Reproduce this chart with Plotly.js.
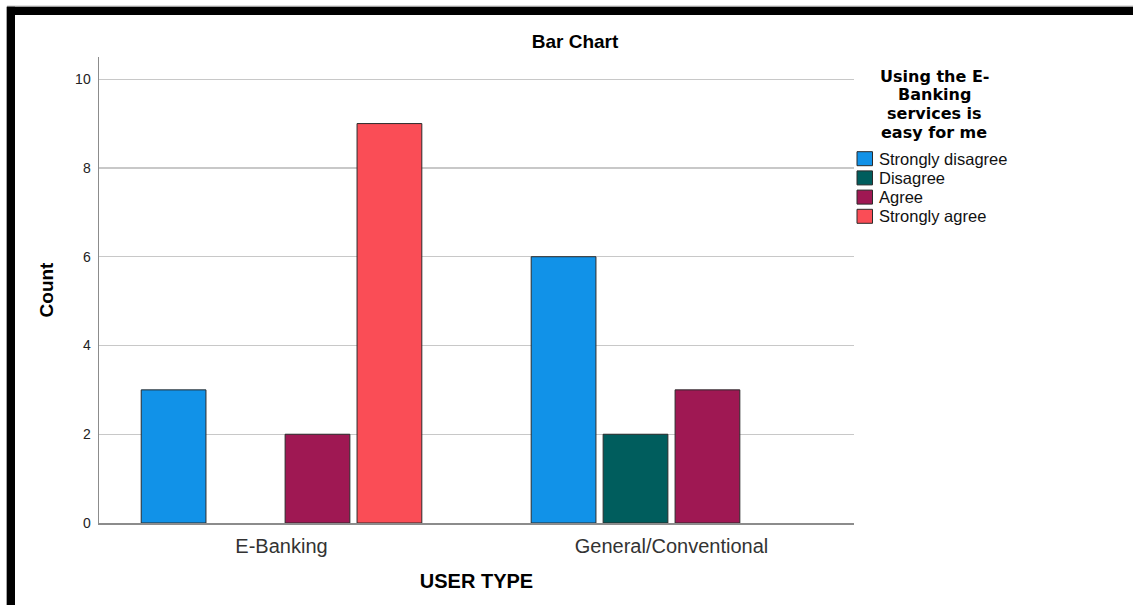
<!DOCTYPE html>
<html>
<head>
<meta charset="utf-8">
<script src="https://cdn.plot.ly/plotly-3.0.1.min.js"></script>
<style>html,body{margin:0;padding:0;background:#fff;}#chart{width:1133px;height:605px;}</style>
</head>
<body>
<div id="chart"></div>
<script>
// ---- data ----
const userTypes = ["E-Banking", "General/Conventional"];
const responses = ["Strongly disagree", "Disagree", "Agree", "Strongly agree"];
const countsStronglyDisagree = [3, 6];
const countsDisagree = [0, 2];
const countsAgree = [2, 3];
const countsStronglyAgree = [9, 0];
const yTickValues = [0, 2, 4, 6, 8, 10];
const chartTitle = "Bar Chart";
const legendTitleLines = ["Using the E-", "Banking", "services is", "easy for me"];

const seriesValues = [countsStronglyDisagree, countsDisagree, countsAgree, countsStronglyAgree];
const colors = ["#1192e8", "#005d5d", "#9f1853", "#fa4d56"];

// ---- geometry helpers (pixel -> paper) ----
const W = 1133, H = 605;
const M = {l: 99, r: W - 854, t: 57, b: H - 523};
const PW = W - M.l - M.r, PH = H - M.t - M.b;
const px2x = px => (px - M.l) / PW;
const px2y = py => (H - M.b - py) / PH;

const FONT = "Liberation Sans, Arial, sans-serif";
const WIDEBOLD = "DejaVu Sans, Liberation Sans, Arial, sans-serif";

const traces = responses.map((name, i) => ({
  type: "bar",
  name: name,
  x: userTypes,
  y: seriesValues[i].map(v => v === 0 ? null : v),
  marker: {color: colors[i], line: {color: "#2b2b2b", width: 1}},
  showlegend: false,
  hoverinfo: "x+y+name"
}));

const shapes = [];
const annotations = [];

// frame of the original screenshot
shapes.push({type: "rect", xref: "paper", yref: "paper", x0: px2x(7), x1: px2x(W + 5), y0: px2y(5.5), y1: px2y(6.7), fillcolor: "#c4c4c4", line: {width: 0}, layer: "above"});
shapes.push({type: "rect", xref: "paper", yref: "paper", x0: px2x(7), x1: px2x(W + 5), y0: px2y(6.7), y1: px2y(15), fillcolor: "#000", line: {width: 0}, layer: "above"});
shapes.push({type: "rect", xref: "paper", yref: "paper", x0: px2x(6), x1: px2x(6.8), y0: px2y(6.7), y1: px2y(H + 5), fillcolor: "#c4c4c4", line: {width: 0}, layer: "above"});
shapes.push({type: "rect", xref: "paper", yref: "paper", x0: px2x(6.8), x1: px2x(15), y0: px2y(6.7), y1: px2y(H + 5), fillcolor: "#000", line: {width: 0}, layer: "above"});

// legend title (one line per annotation, tight line spacing as in the reference)
legendTitleLines.forEach((t, i) => {
  annotations.push({xref: "paper", yref: "paper", x: px2x(934), y: px2y(76 + i * 18.7), xanchor: "center", yanchor: "middle",
    text: "<b>" + t + "</b>", showarrow: false, font: {family: WIDEBOLD, size: 16, color: "#000"}});
});

// legend entries
responses.forEach((name, i) => {
  const cy = 158.7 + i * 19.2;
  shapes.push({type: "rect", xref: "paper", yref: "paper", x0: px2x(857), x1: px2x(872.5), y0: px2y(cy - 7), y1: px2y(cy + 7),
    fillcolor: colors[i], line: {color: "#2b2b2b", width: 1}});
  annotations.push({xref: "paper", yref: "paper", x: px2x(877), y: px2y(cy), xanchor: "left", yanchor: "middle",
    text: name, showarrow: false, font: {family: FONT, size: 16.5, color: "#111"}});
});

const layout = {
  width: W, height: H,
  margin: M,
  paper_bgcolor: "#fff", plot_bgcolor: "#fff",
  barmode: "group",
  bargap: 0.262,
  bargroupgap: 0.1,
  title: {text: "<b>" + chartTitle + "</b>", x: 575 / W, xanchor: "center", y: 1 - 41 / H, yanchor: "middle",
    font: {family: FONT, size: 19, color: "#000"}},
  xaxis: {
    type: "category",
    range: [-0.468, 1.468],
    showline: true, linecolor: "#8c8c8c", linewidth: 1.5,
    showgrid: false, zeroline: false, ticks: "",
    tickfont: {family: FONT, size: 20, color: "#333"},
    ticklabelstandoff: 4,
    title: {text: "<b>USER TYPE</b>", font: {family: FONT, size: 20, color: "#000"}, standoff: 18},
    automargin: false
  },
  yaxis: {
    range: [0, 10.5],
    tickvals: yTickValues,
    showline: true, linecolor: "#8c8c8c", linewidth: 1.5,
    showgrid: true, gridcolor: "#c8c8c8", gridwidth: 1.2,
    zeroline: false, ticks: "",
    tickfont: {family: FONT, size: 14, color: "#222"},
    ticklabelstandoff: 4,
    title: {text: "<b>Count</b>", font: {family: FONT, size: 19, color: "#000"}, standoff: 16},
    automargin: false
  },
  shapes: shapes,
  annotations: annotations,
  showlegend: false
};

Plotly.newPlot("chart", traces, layout, {displayModeBar: false, staticPlot: true});
</script>
</body>
</html>
